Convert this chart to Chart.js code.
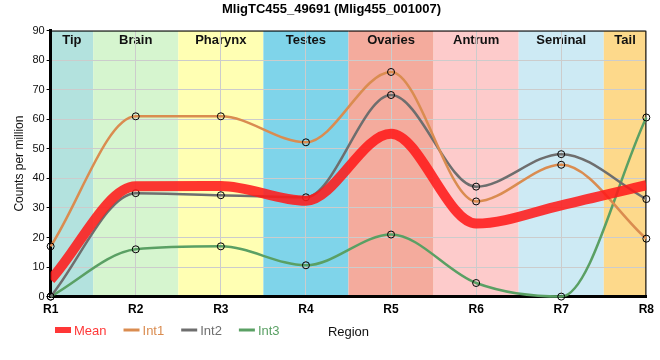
<!DOCTYPE html>
<html>
<head>
<meta charset="utf-8">
<script src="https://cdn.jsdelivr.net/npm/chart.js@4.4.1/dist/chart.umd.min.js"></script>
<style>
  html, body { margin: 0; padding: 0; background: #fff; }
</style>
</head>
<body>
<canvas id="chart" width="660" height="360"></canvas>
<script>
// values
const regions = ['R1', 'R2', 'R3', 'R4', 'R5', 'R6', 'R7', 'R8'];
const meanVals = [5.7, 37.3, 37.4, 32.4, 55.1, 24.7, 30.9, 37.7];
const int1Vals = [17, 61, 61, 52.2, 76, 32.2, 44.6, 19.6];
const int2Vals = [0, 35, 34.3, 33.6, 68.2, 37.2, 48.2, 33];
const int3Vals = [0, 16, 17, 10.6, 21, 4.6, 0, 60.6];
const yTicks = [0, 10, 20, 30, 40, 50, 60, 70, 80, 90];

// tissue bands behind the plot (one per region, half a step either side)
const tissues = ['Tip', 'Brain', 'Pharynx', 'Testes', 'Ovaries', 'Antrum', 'Seminal', 'Tail'];
const tissueColors = ['#b3e2de', '#d6f5cf', '#ffffb3', '#7fd4ea', '#f4ab9d', '#fdcbcb', '#cdeaf4', '#fdd98b'];

const FONT = "'Liberation Sans', Arial, sans-serif";
const END_STEEPNESS = 3; // reference curves leave the end points steeper than chart.js monotone

const bandsPlugin = {
  id: 'bands',
  beforeDraw(chart) {
    const { ctx, chartArea, scales: { x } } = chart;
    const last = regions.length - 1;
    ctx.save();
    tissues.forEach((name, i) => {
      const x0 = x.getPixelForValue(Math.max(i - 0.5, 0));
      const x1 = x.getPixelForValue(Math.min(i + 0.5, last));
      ctx.fillStyle = tissueColors[i];
      ctx.fillRect(x0, chartArea.top, x1 - x0, chartArea.bottom - chartArea.top);
    });
    ctx.fillStyle = '#111';
    ctx.font = 'bold 13px ' + FONT;
    ctx.textAlign = 'center';
    ctx.textBaseline = 'middle';
    tissues.forEach((name, i) => {
      const x0 = x.getPixelForValue(Math.max(i - 0.5, 0));
      const x1 = x.getPixelForValue(Math.min(i + 0.5, last));
      ctx.fillText(name, (x0 + x1) / 2, chartArea.top + 10);
    });
    ctx.restore();
  },
  beforeDatasetsDraw(chart) {
    const { ctx, chartArea } = chart;
    ctx.save();
    ctx.strokeStyle = '#000';
    ctx.lineWidth = 1;
    ctx.beginPath();
    ctx.moveTo(chartArea.left, chartArea.top + 0.5);
    ctx.lineTo(chartArea.right - 0.5, chartArea.top + 0.5);
    ctx.lineTo(chartArea.right - 0.5, chartArea.bottom);
    ctx.stroke();
    ctx.restore();
  },
  beforeDatasetDraw(chart, args) {
    const meta = args.meta;
    const line = meta.dataset;
    if (line._pointsUpdated) return;
    line.updateControlPoints(chart.chartArea, meta.iScale.axis);
    const pts = meta.data;
    const first = pts[0], last = pts[pts.length - 1];
    first.cp2y = first.y + END_STEEPNESS * (first.cp2y - first.y);
    last.cp1y = last.y + END_STEEPNESS * (last.cp1y - last.y);
  },
  afterDraw(chart) {
    // legend row and x axis title, drawn by hand to sit where the reference has them
    const { ctx, chartArea } = chart;
    const rowY = 330;
    ctx.save();
    ctx.font = '13px ' + FONT;
    ctx.textBaseline = 'middle';
    ctx.textAlign = 'left';
    let lx = 55;
    chart.data.datasets.forEach((ds, i) => {
      if (i === 0) {
        ctx.fillStyle = ds.borderColor;
        ctx.fillRect(lx, rowY - 3, 16, 6);
      } else {
        ctx.strokeStyle = ds.borderColor;
        ctx.lineWidth = 3;
        ctx.beginPath();
        ctx.moveTo(lx, rowY);
        ctx.lineTo(lx + 16, rowY);
        ctx.stroke();
      }
      ctx.fillStyle = ds.borderColor;
      ctx.fillText(ds.label, lx + 19, rowY + 1);
      lx += 16 + 3 + ctx.measureText(ds.label).width + 17;
    });
    ctx.fillStyle = '#111';
    ctx.textAlign = 'center';
    ctx.fillText('Region', (chartArea.left + chartArea.right) / 2, rowY + 2);
    ctx.restore();
  }
};

function lineSet(label, data, color) {
  return {
    label, data,
    borderColor: color,
    borderWidth: 2.5,
    pointRadius: 3.5,
    pointBorderColor: '#000',
    pointBorderWidth: 1,
    pointBackgroundColor: 'rgba(0,0,0,0)',
    cubicInterpolationMode: 'monotone',
    clip: false
  };
}

const ctx = document.getElementById('chart').getContext('2d');
new Chart(ctx, {
  type: 'line',
  data: {
    labels: regions,
    datasets: [
      {
        label: 'Mean', data: meanVals,
        borderColor: 'rgba(255,25,25,0.87)',
        backgroundColor: 'rgba(255,25,25,0.87)',
        borderWidth: 10,
        pointRadius: 0,
        cubicInterpolationMode: 'monotone',
        clip: 0
      },
      lineSet('Int1', int1Vals, '#da8c50'),
      lineSet('Int2', int2Vals, '#6e6e6e'),
      lineSet('Int3', int3Vals, '#5aa064')
    ]
  },
  options: {
    responsive: false,
    animation: false,
    layout: { padding: { left: 12, right: 9, top: 0, bottom: 37 } },
    plugins: {
      title: {
        display: true,
        text: 'MligTC455_49691 (Mlig455_001007)',
        color: '#000',
        font: { family: FONT, size: 13, weight: 'bold' },
        padding: { top: 2, bottom: 13 }
      },
      legend: { display: false },
      tooltip: { enabled: false }
    },
    scales: {
      x: {
        offset: false,
        grid: { color: '#cccccc', drawTicks: false },
        border: { color: '#000', width: 3 },
        ticks: { color: '#000', font: { family: FONT, size: 12, weight: 'bold' }, padding: 6, maxRotation: 0 }
      },
      y: {
        min: 0, max: 90,
        afterBuildTicks(scale) { scale.ticks = yTicks.map(v => ({ value: v })); },
        grid: { color: '#cccccc', tickLength: 4, tickColor: '#000' },
        border: { color: '#000', width: 3 },
        ticks: { color: '#111', font: { family: FONT, size: 11 }, padding: 2 },
        title: {
          display: true,
          text: 'Counts per million',
          color: '#111',
          font: { family: FONT, size: 12 },
          padding: { top: 0, bottom: 4 }
        }
      }
    }
  },
  plugins: [bandsPlugin]
});
</script>
</body>
</html>
